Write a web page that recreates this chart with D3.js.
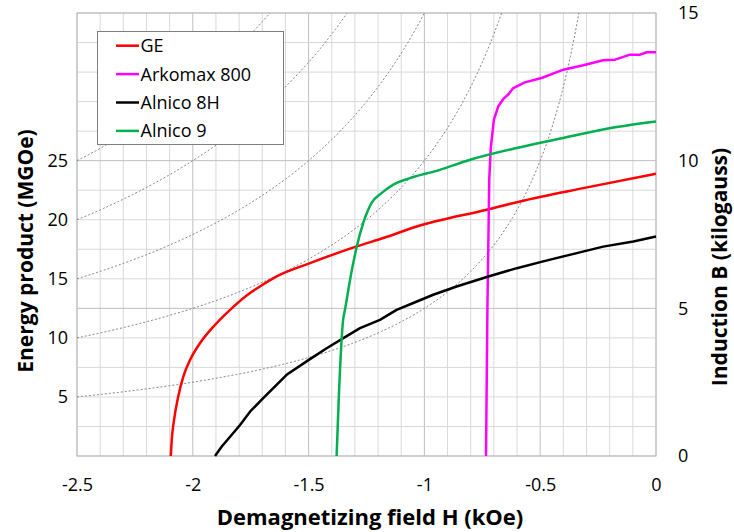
<!DOCTYPE html>
<html><head><meta charset="utf-8">
<script src="https://cdn.jsdelivr.net/npm/d3@7"></script>
<style>
body{margin:0;background:#fff;}
svg{font-family:"Open Sans",Lato,sans-serif;}
</style></head>
<body><svg id="c" width="734" height="532"></svg>
<script>
const xTicks=[-2.5,-2,-1.5,-1,-0.5,0];
const bTicks=[0,5,10,15];
const energyTicks=[5,10,15,20,25];
const energyCurves=[5,10,15,20,25];
const seriesNames=["GE","Arkomax 800","Alnico 8H","Alnico 9"];
const seriesColors=["#ff0000","#ff00ff","#000000","#00b050"];
const geH=[-2.095,-2.091,-2.081,-2.063,-2.041,-2.012,-1.969,-1.911,-1.839,-1.753,-1.71,-1.638,-1.494,-1.292,-1.177,-1.033,-0.731,-0.587,-0.314,0];
const geB=[0,0.54,1.22,2.01,2.69,3.25,3.82,4.38,4.95,5.52,5.74,6.08,6.53,7.10,7.38,7.77,8.34,8.62,9.07,9.56];
const arkH=[-0.734,-0.728,-0.720,-0.714,-0.700,-0.681,-0.659,-0.638,-0.616,-0.566,-0.494,-0.40,-0.314,-0.228,-0.177,-0.112,-0.069,-0.040,0];
const arkB=[0,4.95,9.36,10.37,11.39,11.84,12.09,12.24,12.46,12.65,12.80,13.08,13.23,13.40,13.42,13.59,13.59,13.67,13.67];
const a8H=[-1.904,-1.875,-1.839,-1.796,-1.753,-1.696,-1.595,-1.494,-1.422,-1.35,-1.278,-1.192,-1.120,-1.048,-0.962,-0.861,-0.724,-0.601,-0.487,-0.342,-0.228,-0.098,0];
const a8B=[0,0.32,0.65,1.05,1.50,1.96,2.75,3.28,3.65,3.99,4.33,4.61,4.95,5.18,5.46,5.74,6.08,6.36,6.59,6.87,7.09,7.26,7.43];
const a9H=[-1.379,-1.37,-1.351,-1.343,-1.321,-1.292,-1.264,-1.228,-1.184,-1.134,-1.062,-0.933,-0.803,-0.601,-0.40,-0.170,0];
const a9B=[0,1.9,4.61,4.95,5.97,7.09,7.89,8.57,8.91,9.19,9.41,9.69,10.03,10.43,10.77,11.14,11.33];
const seriesH=[geH,arkH,a8H,a9H];
const seriesB=[geB,arkB,a8B,a9B];
const seriesCurve=[d3.curveMonotoneX,d3.curveLinear,d3.curveLinear,d3.curveMonotoneX];

const L=77,R=656,T=13,B=456;
const svg=d3.select("#c");
const x=d3.scaleLinear().domain([-2.5,0]).range([L,R]);
const y=d3.scaleLinear().domain([0,15]).range([B,T]);
const yE=d3.scaleLinear().domain([0,37.5]).range([B,T]);

// grid
const g=svg.append("g");
d3.range(0,26).forEach(i=>{const h=-2.5+i*0.1;
  g.append("line").attr("x1",x(h)).attr("x2",x(h)).attr("y1",T).attr("y2",B)
   .attr("stroke",i%5===0?"#bfbfbf":"#d9d9d9").attr("stroke-width",1);});
d3.range(0,16).forEach(i=>{
  g.append("line").attr("x1",L).attr("x2",R).attr("y1",y(i)).attr("y2",y(i))
   .attr("stroke",i%5===0?"#bfbfbf":"#d9d9d9").attr("stroke-width",1);});
g.append("rect").attr("x",L).attr("y",T).attr("width",R-L).attr("height",B-T)
 .attr("fill","none").attr("stroke","#bfbfbf");

svg.append("clipPath").attr("id","clip").append("rect").attr("x",L).attr("y",T).attr("width",R-L).attr("height",B-T);

// constant energy product curves
const hyp=svg.append("g").attr("clip-path","url(#clip)");
energyCurves.forEach(E=>{
  const pts=d3.range(-2.5,-0.05,0.005).map(h=>[h,E/Math.abs(h)]).filter(p=>p[1]<16.5);
  hyp.append("path").datum(pts).attr("fill","none").attr("stroke","#7f7f7f")
   .attr("stroke-width",1).attr("stroke-dasharray","2,2")
   .attr("d",d3.line().x(d=>x(d[0])).y(d=>y(d[1])));
});

// series
seriesNames.forEach((n,i)=>{
  const pts=seriesH[i].map((h,j)=>[h,seriesB[i][j]]);
  svg.append("path").datum(pts).attr("fill","none").attr("stroke",seriesColors[i])
   .attr("stroke-width",2.5).attr("stroke-linejoin","round")
   .attr("d",d3.line().curve(seriesCurve[i]).x(d=>x(d[0])).y(d=>y(d[1])));
});

// axes
const ax=svg.append("g").attr("transform",`translate(0,${B+12})`)
 .call(d3.axisBottom(x).tickValues(xTicks).tickSize(0).tickPadding(10).tickFormat(d=>String(d)));
const ar=svg.append("g").attr("transform",`translate(${R+14},0)`)
 .call(d3.axisRight(y).tickValues(bTicks).tickSize(0).tickPadding(8).tickFormat(d=>String(d)));
const al=svg.append("g").attr("transform",`translate(${L-3},0)`)
 .call(d3.axisLeft(yE).tickValues(energyTicks).tickSize(0).tickPadding(6).tickFormat(d=>String(d)));
[ax,ar,al].forEach(a=>{a.select(".domain").remove();
  a.selectAll("text").attr("font-size",18).attr("fill","#000").attr("font-family","'Open Sans',sans-serif");});

svg.append("text").attr("x",370).attr("y",525).attr("text-anchor","middle")
 .attr("font-size",22).attr("font-weight","bold").text("Demagnetizing field H (kOe)");
svg.append("text").attr("transform","translate(33,251) rotate(-90)").attr("text-anchor","middle")
 .attr("font-size",21).attr("font-weight","bold").text("Energy product (MGOe)");
svg.append("text").attr("transform","translate(727,267) rotate(-90)").attr("text-anchor","middle")
 .attr("font-size",21).attr("font-weight","bold").text("Induction B (kilogauss)");

// legend
const lg=svg.append("g");
lg.append("rect").attr("x",97.5).attr("y",31.5).attr("width",186).attr("height",113)
 .attr("fill","#fff").attr("stroke","#7f7f7f");
seriesNames.forEach((n,i)=>{
  const yy=45.7+i*28.4;
  lg.append("line").attr("x1",116).attr("x2",139).attr("y1",yy).attr("y2",yy)
   .attr("stroke",seriesColors[i]).attr("stroke-width",2.5);
  lg.append("text").attr("x",140.5).attr("y",yy+6.5).attr("font-size",18).text(n);
});
</script></body></html>
